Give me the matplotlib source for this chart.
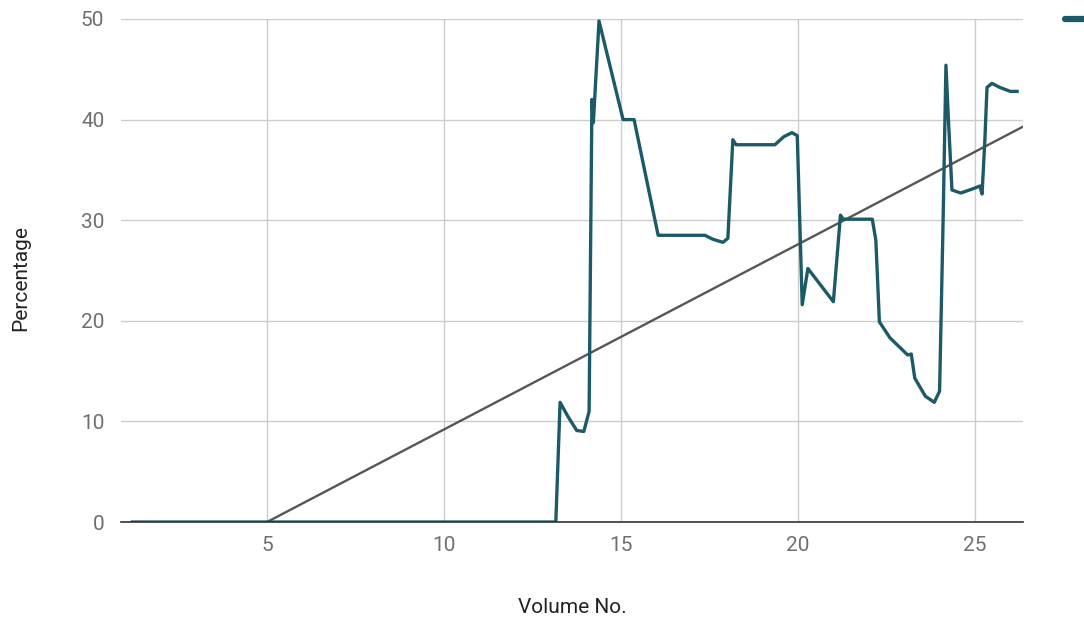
import numpy as np
import matplotlib
matplotlib.use('Agg')
import matplotlib.pyplot as plt

plt.rcParams['font.family'] = ['Roboto', 'DejaVu Sans']

# values
volume = [1.2, 13.16, 13.28, 13.5, 13.75, 13.95, 14.1, 14.18, 14.22, 14.38,
          15.06, 15.37, 16.05, 17.37, 17.6, 17.88, 18.02, 18.16, 18.25, 19.35,
          19.6, 19.83, 19.98, 20.12, 20.28, 21.0, 21.2, 21.28, 22.1, 22.2,
          22.3, 22.6, 23.1, 23.2, 23.3, 23.6, 23.85, 24.0, 24.1, 24.18,
          24.25, 24.35, 24.6, 25.0, 25.14, 25.2, 25.28, 25.34, 25.48, 25.7,
          26.0, 26.19]
percentage = [0, 0, 11.9, 10.5, 9.1, 9.0, 11, 42, 39.7, 49.8,
              40, 40, 28.5, 28.5, 28.1, 27.8, 28.2, 38, 37.5, 37.5,
              38.3, 38.7, 38.4, 21.6, 25.2, 21.9, 30.5, 30.1, 30.1, 28,
              19.9, 18.3, 16.6, 16.7, 14.3, 12.5, 11.9, 13, 30, 45.4,
              40, 33, 32.7, 33.2, 33.4, 32.6, 38, 43.2, 43.6, 43.2,
              42.8, 42.8]

# linear trendline
trend_slope = 1.84
trend_intercept = -9.2

x_ticks = [5, 10, 15, 20, 25]
y_ticks = [0, 10, 20, 30, 40, 50]

fig = plt.figure(figsize=(10.84, 6.2), dpi=100)
ax = fig.add_axes([0.1116, 0.158, 0.8321, 0.8114])

line, = ax.plot(volume, percentage, color='#1b5a66', lw=2.4,
                solid_joinstyle='round', zorder=3)

xmin, xmax = 0.876, 26.356
tx = np.array([xmin, xmax])
ax.plot(tx, trend_slope * tx + trend_intercept, color='#444444', lw=1.7,
        alpha=0.9, zorder=2)

ax.set_xlim(xmin, xmax)
ax.set_ylim(0, 50)
ax.set_xticks(x_ticks)
ax.set_yticks(y_ticks)
ax.grid(True, color='#cccccc', lw=1)
ax.set_axisbelow(True)
for s in ['top', 'right', 'left']:
    ax.spines[s].set_visible(False)
ax.spines['bottom'].set_color('#333333')
ax.spines['bottom'].set_linewidth(1.2)
ax.spines['bottom'].set_zorder(4)

ax.tick_params(axis='both', length=0, labelsize=15, labelcolor='#6f6f6f')
ax.tick_params(axis='y', pad=12)
ax.tick_params(axis='x', pad=10)

ax.set_xlabel('Volume No.', fontsize=15, color='#222222')
ax.set_ylabel('Percentage', fontsize=15, color='#222222')
ax.xaxis.set_label_coords(0.5, -0.151)
ax.yaxis.set_label_coords(-0.101, 0.485)

# legend is cut off at the right edge, only its marker shows
leg = ax.legend([line], [' '], loc='upper left', bbox_to_anchor=(1.026, 1.052),
                frameon=False, fontsize=15, handlelength=1.5)
for h in leg.get_lines():
    h.set_linewidth(4.5)
    h.set_solid_capstyle('round')

fig.savefig('out.png', dpi=100)
